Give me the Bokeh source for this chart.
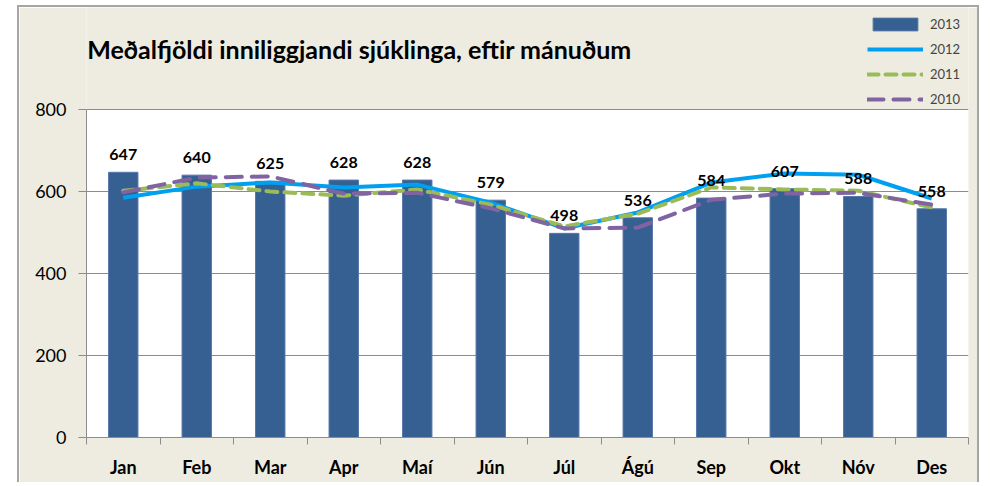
import numpy as np
from bokeh.plotting import figure
from bokeh.models import (ColumnDataSource, Range1d, FixedTicker, Legend, LegendItem,
                          LabelSet, Label, BoxAnnotation)
from bokeh.core.properties import value
from bokeh.embed import file_html
from bokeh.resources import INLINE

months = ["Jan", "Feb", "Mar", "Apr", "Maí", "Jún", "Júl", "Ágú", "Sep", "Okt", "Nóv", "Des"]
y2013 = [647, 640, 625, 628, 628, 579, 498, 536, 584, 607, 588, 558]
y2012 = [585, 612, 622, 610, 617, 573, 510, 549, 622, 644, 641, 583]
y2011 = [602, 620, 600, 590, 605, 568, 515, 546, 610, 605, 602, 561]
y2010 = [598, 634, 637, 595, 597, 559, 510, 512, 580, 595, 597, 568]
y_ticks = [0, 200, 400, 600, 800]
title_text = "Meðalfjöldi inniliggjandi sjúklinga, eftir mánuðum"

FONT = "Lato"
BG = "#EEECE1"
AX = "#8c8c8c"

xc = np.arange(len(months)) + 0.5
bounds = list(np.arange(len(months) + 1))
y_max = y_ticks[-1]

src = ColumnDataSource(dict(x=xc, y2013=y2013, y2012=y2012, y2011=y2011, y2010=y2010,
                            lab=[str(v) for v in y2013]))

# frame covers whole chart area above the x axis; the white plot area is a box 0..800
p = figure(width=962, height=477, output_backend="svg", toolbar_location=None,
           x_range=Range1d(0, len(months)), y_range=Range1d(0, 1049),
           min_border_left=67, min_border_right=13, min_border_top=0, min_border_bottom=47)
p.margin = (5, 0, 0, 17)
p.styles = {"border-top": "2px solid #a6a6a6", "border-left": "2px solid #a6a6a6",
            "border-right": "2px solid #a6a6a6"}
p.background_fill_color = BG
p.border_fill_color = BG
p.outline_line_color = None

plot_area = BoxAnnotation(bottom=0, top=y_max, fill_color="white", fill_alpha=1,
                          line_color=None, level="image")
p.add_layout(plot_area)

# grid
p.xgrid.grid_line_color = None
p.ygrid.grid_line_color = AX
p.ygrid.grid_line_width = 1

# y axis
p.yaxis.ticker = FixedTicker(ticks=y_ticks)
p.yaxis.bounds = (0, y_max)
p.yaxis.axis_line_color = AX
p.yaxis.major_tick_line_color = AX
p.yaxis.major_tick_out = 8
p.yaxis.major_tick_in = 0
p.yaxis.minor_tick_line_color = None
p.yaxis.major_label_standoff = 12
p.yaxis.major_label_text_font = FONT
p.yaxis.major_label_text_font_size = "18px"
p.yaxis.major_label_text_color = "black"

# x axis: labels at centres, ticks at boundaries (minor)
p.xaxis.ticker = FixedTicker(ticks=list(xc), minor_ticks=bounds)
p.xaxis.major_label_overrides = {float(x): m for x, m in zip(xc, months)}
p.xaxis.axis_line_color = AX
p.xaxis.major_tick_line_color = None
p.xaxis.major_tick_out = 0
p.xaxis.major_tick_in = 0
p.xaxis.minor_tick_line_color = AX
p.xaxis.minor_tick_out = 7
p.xaxis.minor_tick_in = 0
p.xaxis.major_label_standoff = 11
p.xaxis.major_label_text_font = FONT
p.xaxis.major_label_text_font_style = "bold"
p.xaxis.major_label_text_font_size = "18px"
p.xaxis.major_label_text_color = "black"

bars = p.vbar(x="x", top="y2013", width=0.4, source=src, fill_color="#365F92",
              line_color="#5577a8", line_width=1)
l12 = p.line("x", "y2012", source=src, line_color="#00A0F0", line_width=4, line_join="round")
l11 = p.line("x", "y2011", source=src, line_color="#9BBB59", line_width=4,
             line_dash="11 7", line_cap="round", line_join="round")
l10 = p.line("x", "y2010", source=src, line_color="#8064A2", line_width=4,
             line_dash="16 10", line_cap="round", line_join="round")

labels = LabelSet(x="x", y="y2013", text="lab", source=src, y_offset=12,
                  text_align="center", text_baseline="bottom",
                  text_font=value(FONT), text_font_style="bold", text_font_size="16px",
                  text_color="black")
p.add_layout(labels)

title = Label(x=0.01, y=947, text=title_text, text_font=FONT, text_font_style="bold",
              text_font_size="25px", text_color="black", text_baseline="middle",
              text_align="left")
p.add_layout(title)

legend = Legend(items=[LegendItem(label="2013", renderers=[bars]),
                       LegendItem(label="2012", renderers=[l12]),
                       LegendItem(label="2011", renderers=[l11]),
                       LegendItem(label="2010", renderers=[l10])],
                location=(781, 330), orientation="vertical",
                glyph_width=56, glyph_height=16, label_height=16, spacing=9,
                padding=0, margin=0, label_standoff=7,
                label_text_font=FONT, label_text_font_size="13px",
                background_fill_alpha=0, border_line_color=None)
p.add_layout(legend, "center")

open("out.html", "w").write(file_html(p, INLINE))
